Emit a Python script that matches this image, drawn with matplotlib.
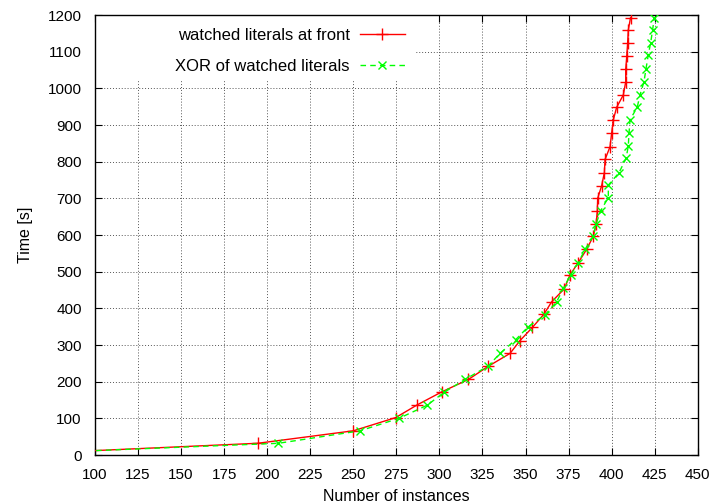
import matplotlib
matplotlib.use("Agg")
import matplotlib.pyplot as plt
from matplotlib.patches import Rectangle

plt.rcParams['font.family'] = ['Liberation Sans', 'DejaVu Sans']

# Cumulative solved instances vs. time
front_n = [95, 194.5, 250, 274.6, 287.2, 301.3, 316.8, 328.4, 341, 346.8, 354, 360.7,
           365.2, 372.5, 375.8, 380.7, 385.5, 389.4, 391, 391.7, 391.9, 394.2, 395.8,
           396.2, 399.1, 400, 401, 402.9, 406.8, 408.2, 408.2, 408.8, 409.3, 409.7, 411]
front_t = [11, 32, 66, 102, 137, 172, 206, 242, 277, 312, 348, 384,
           418, 453, 491, 525, 561, 597, 630, 665, 700, 734, 770,
           806, 841, 877, 914, 948, 982, 1018, 1052, 1088, 1123, 1159, 1193]

xor_n = [95, 206.5, 253.9, 276.5, 293, 302.7, 314.9, 328.4, 335.2, 344.4, 351.6, 361.3,
         368.1, 372, 376.2, 380.7, 384.6, 389.4, 391, 393.6, 398.1, 398.1, 404.3,
         408.4, 409.7, 410.1, 410.7, 414.9, 416.5, 418.8, 420, 421.3, 422.7, 423.8, 424.8]
xor_t = [11, 32, 66, 100, 136, 171, 206, 243, 277, 315, 350, 382,
         418, 455, 491, 525, 561, 597, 630, 666, 702, 736, 770,
         809, 843, 877, 914, 949, 982, 1018, 1054, 1091, 1125, 1159, 1193]

x_ticks = list(range(100, 451, 25))
y_ticks = list(range(0, 1201, 100))

fig = plt.figure(figsize=(7.15, 5.04), dpi=100)
ax = fig.add_axes([0.1329, 0.0972, 0.9758 - 0.1329, 0.9702 - 0.0972])

ax.plot(front_n, front_t, color='#ff0000', linewidth=1.0, marker='+',
        markersize=8, markeredgewidth=1.0, label='watched literals at front',
        clip_on=True, zorder=3)
ax.plot(xor_n, xor_t, color='#00ff00', linewidth=1.0, linestyle=(0, (4, 3)),
        marker='x', markersize=6, markeredgewidth=1.0,
        label='XOR of watched literals', clip_on=True, zorder=3)

ax.set_xlim(100, 450)
ax.set_ylim(0, 1200)
ax.set_xticks(x_ticks)
ax.set_yticks(y_ticks)
ax.tick_params(direction='in', top=True, right=True, length=5, width=0.8,
               labelsize=11, pad=9.5, colors='black')
ax.grid(True, color='#555555', linestyle=(0, (1, 2)), linewidth=0.7)
ax.set_axisbelow(True)
for s in ax.spines.values():
    s.set_linewidth(1.0)

ax.set_xlabel('Number of instances', fontsize=11.5, labelpad=5)
ax.set_ylabel('Time [s]', fontsize=11.5, labelpad=11)

# blank key area over the grid, as in gnuplot's opaque key
ax.add_patch(Rectangle((0.0, 0.852), 0.531, 0.148, transform=ax.transAxes,
                       facecolor='white', edgecolor='none', zorder=1))

leg = ax.legend(loc='upper right', bbox_to_anchor=(0.514, 0.971), markerfirst=False,
                frameon=False, fontsize=12, handlelength=2.7,
                handletextpad=0.6, labelspacing=0.95, borderpad=0.0,
                borderaxespad=0.0)

fig.savefig('out.png', dpi=100)
